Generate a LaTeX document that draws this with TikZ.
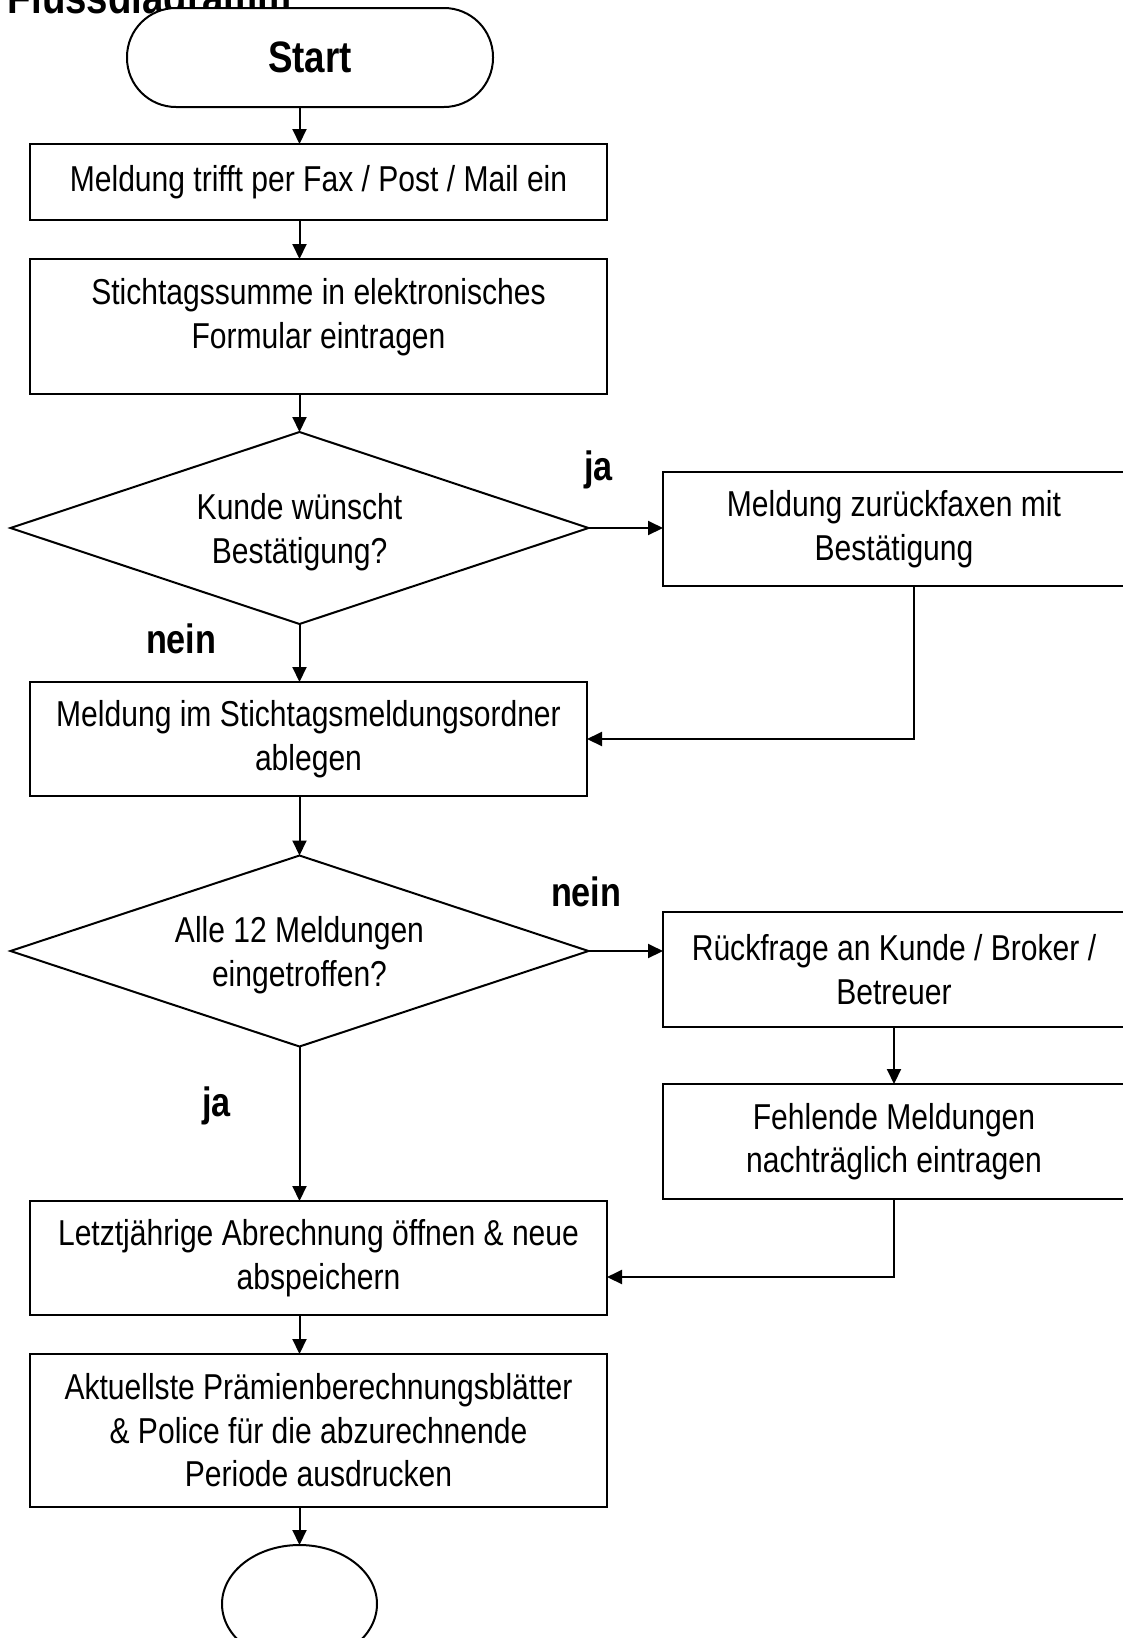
\documentclass[tikz,border=0pt]{standalone}
\usepackage{fontspec}
\setmainfont{Liberation Sans}[FakeStretch=0.835]
\usetikzlibrary{shapes.geometric,arrows.meta}
\begin{document}
\begin{tikzpicture}[x=1pt,y=-1pt,
  every node/.style={inner sep=0pt,outer sep=0pt},
  txt/.style={align=center,font=\fontsize{36}{43.5}\selectfont},
  proc/.style={draw,line width=2pt,rectangle,fill=white,txt},
  dec/.style={draw,line width=2pt,diamond,aspect=3,fill=white},
  lbl/.style={anchor=base west,font=\bfseries\fontsize{41}{48}\selectfont},
  arr/.style={line width=2pt,-{Triangle[length=15pt,width=14pt]}}
]
\useasboundingbox (0,0) rectangle (1123,1638);
\clip (0,0) rectangle (1123,1638);

\node[anchor=base west,font=\bfseries\fontsize{46}{54}\selectfont] (title) at (8,13) {Flussdiagramm};

\node[draw,line width=2pt,fill=white,rounded corners=49pt,minimum width=366pt,minimum height=99pt,
  font=\bfseries\fontsize{44}{52}\selectfont] (start) at (310,57.5) {Start};

\node[proc,minimum width=577pt,minimum height=76pt] (b1) at (318.5,182) {Meldung trifft per Fax / Post / Mail ein};
\node[proc,minimum width=577pt,minimum height=135pt] (b2) at (318.5,326.5) {};
\node[txt] (b2t) at (318.5,317) {Stichtagssumme in elektronisches\\Formular eintragen};

\node[dec,minimum width=578pt,minimum height=192pt] (d1) at (299.5,528) {};
\node[txt] (d1t) at (299.5,532) {Kunde wünscht\\Bestätigung?};
\node[proc,minimum width=462pt,minimum height=114pt] (r1) at (894,529) {Meldung zurückfaxen mit\\Bestätigung};

\node[proc,minimum width=557pt,minimum height=114pt] (b3) at (308.5,739) {Meldung im Stichtagsmeldungsordner\\ablegen};

\node[dec,minimum width=578pt,minimum height=191pt] (d2) at (299.5,951) {};
\node[txt] (d2t) at (299.5,955) {Alle 12 Meldungen\\eingetroffen?};
\node[proc,minimum width=462pt,minimum height=115pt] (r2) at (894,969.5) {Rückfrage an Kunde / Broker /\\Betreuer};
\node[proc,minimum width=462pt,minimum height=115pt] (r3) at (894,1141.5) {Fehlende Meldungen\\nachträglich eintragen};

\node[proc,minimum width=577pt,minimum height=114pt] (b4) at (318.5,1258) {Letztjährige Abrechnung öffnen \& neue\\abspeichern};
\node[proc,minimum width=577pt,minimum height=153pt] (b5) at (318.5,1430.5) {Aktuellste Prämienberechnungsblätter\\\& Police für die abzurechnende\\Periode ausdrucken};

\node[draw,line width=2pt,ellipse,minimum width=155pt,minimum height=118pt] (end) at (299.5,1604) {};

\node[lbl] (ja1) at (584,480) {ja};
\node[lbl] (nein1) at (146,653) {nein};
\node[lbl] (nein2) at (551,906) {nein};
\node[lbl] (ja2) at (202,1116) {ja};

\draw[arr] (start.south -| d1.north) -- (b1.north -| d1.north);
\draw[arr] (b1.south -| d1.north) -- (b2.north -| d1.north);
\draw[arr] (b2.south -| d1.north) -- (d1.north);
\draw[arr] (d1.east) -- (d1.east -| r1.west);
\draw[arr] (d1.south) -- (d1.south |- b3.north);
\draw[arr] ([xshift=20pt]r1.south) |- (b3.east);
\draw[arr] (b3.south -| d2.north) -- (d2.north);
\draw[arr] (d2.east) -- (d2.east -| r2.west);
\draw[arr] (r2.south) -- (r3.north);
\draw[arr] (d2.south) -- (d2.south |- b4.north);
\draw[arr] (r3.south) |- ([yshift=-19pt]b4.east);
\draw[arr] (b4.south -| d2.south) -- (b5.north -| d2.south);
\draw[arr] (b5.south -| end.north) -- (end.north);
\end{tikzpicture}
\end{document}
